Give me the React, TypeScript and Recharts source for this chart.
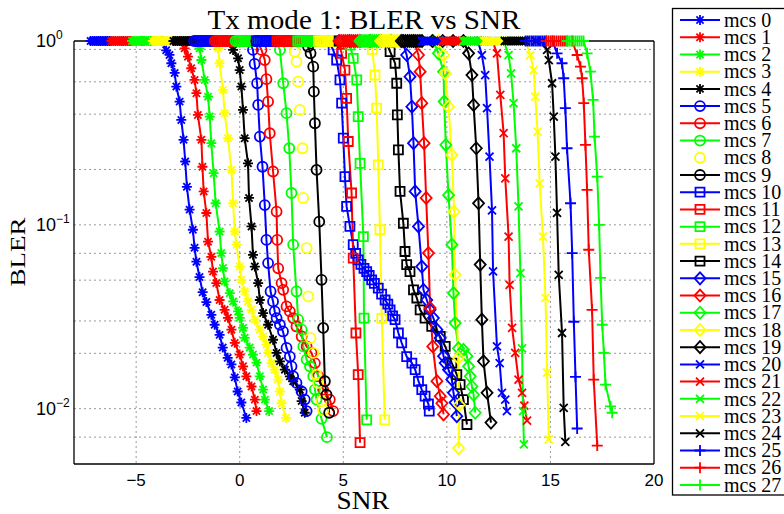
import React from 'react';
import { LineChart, Line, XAxis, YAxis, CartesianGrid, ReferenceLine } from 'recharts';

const W = 784;
const H = 514;

const seriesColors = ['#0000ff', '#ff0000', '#00ff00', '#ffff00', '#000000'];
const markerShapes = ['star', 'circle', 'square', 'diamond', 'x', 'plus'];
const seriesNames = Array.from({ length: 28 }, (_, i) => `mcs ${i}`);
const noLineSeries = [8];

const xTicks = [-5, 0, 5, 10, 15, 20];
const yTicks = [0.01, 0.1, 1];
const xGrid = [-5, 0, 5, 10, 15];
const yGrid = [0.006, 0.007, 0.008, 0.009, 0.01, 0.02, 0.03, 0.04, 0.05, 0.06, 0.07, 0.08, 0.09, 0.1, 0.2, 0.3, 0.4, 0.5, 0.6, 0.7, 0.8, 0.9];

// SNR points where BLER = 1 (the saturated band at the top)
const top0 = [-7.2, -7.1, -7, -6.9, -6.8, -6.7, -6.6, -6.5, -6.4, -6.3, -6.2, -5.7, -5.2, -4.7, -4.2, -3.75];
const top1 = [-6.2, -6.1, -6, -5.9, -5.8, -5.7, -5.6, -5.5, -5.4, -5.3, -5.2, -4.7, -4.2, -3.7, -3.2, -2.85];
const top2 = [-5.2, -5.1, -5, -4.9, -4.8, -4.7, -4.6, -4.5, -4.4, -4.3, -4.2, -3.7, -3.2, -2.7, -2.2];
const top3 = [-4.2, -4.1, -4, -3.9, -3.8, -3.7, -3.6, -3.5, -3.4, -3.3, -3.2, -2.7, -2.2, -1.7, -1.25];
const top4 = [-3.2, -3.1, -3, -2.9, -2.8, -2.7, -2.6, -2.5, -2.4, -2.3, -2.2, -1.7, -1.2, -0.7, -0.5];
const top5 = [-2.2, -2.1, -2, -1.9, -1.8, -1.7, -1.6, -1.5, -1.4, -1.3, -1.2, -0.7, -0.2, 0.3, 0.45];
const top6 = [-1.2, -1.1, -1, -0.9, -0.8, -0.7, -0.6, -0.5, -0.4, -0.3, -0.2, 0.3, 0.85];
const top7 = [-0.2, -0.1, 0, 0.1, 0.2, 0.3, 0.4, 0.5, 0.6, 0.7, 0.8, 1.3, 1.75];
const top8 = [0.8, 1.3, 1.8, 2.3, 2.5];
const top9 = [0.8, 1.3, 1.8, 2.3, 2.8, 3.1];
const top10 = [0.8, 0.9, 1, 1.1, 1.2, 1.3, 1.4, 1.5, 1.6, 1.7, 1.8, 2.3, 2.8, 3.3, 3.8, 4.3];
const top11 = [1.8, 1.9, 2, 2.1, 2.2, 2.3, 2.4, 2.5, 2.6, 2.7, 2.8, 3.3, 3.8, 4.3, 4.75];
const top12 = [2.8, 2.9, 3, 3.1, 3.2, 3.3, 3.4, 3.5, 3.6, 3.7, 3.8, 4.3, 4.8, 5.15];
const top13 = [3.8, 3.9, 4, 4.1, 4.2, 4.3, 4.4, 4.5, 4.6, 4.7, 4.8, 5.3, 5.8, 6.2];
const top14 = [4.8, 5.3, 5.8, 6.3, 6.8, 7.05];
const top15 = [4.8, 5.3, 5.8, 6.3, 6.8, 7.3, 7.85];
const top16 = [4.8, 4.9, 5, 5.1, 5.2, 5.3, 5.4, 5.5, 5.6, 5.7, 5.8, 6.3, 6.8, 7.3, 7.8, 8.4];
const top17 = [5.8, 5.9, 6, 6.1, 6.2, 6.3, 6.4, 6.5, 6.6, 6.7, 6.8, 7.3, 7.8, 8.3, 8.8, 9.35];
const top18 = [6.8, 6.9, 7, 7.1, 7.2, 7.3, 7.4, 7.5, 7.6, 7.7, 7.8, 8.3, 8.8, 9.3, 9.6];
const top19 = [7.8, 7.9, 8, 8.1, 8.2, 8.3, 8.4, 8.5, 8.6, 8.7, 8.8, 9.3, 9.8, 10.3, 10.8];
const top20 = [8.8, 8.9, 9, 9.1, 9.2, 9.3, 9.4, 9.5, 9.6, 9.7, 9.8, 10.3, 10.8, 11.3, 11.5];
const top21 = [9.8, 9.9, 10, 10.1, 10.2, 10.3, 10.4, 10.5, 10.6, 10.7, 10.8, 11.3, 11.8, 12.2];
const top22 = [10.8, 10.9, 11, 11.1, 11.2, 11.3, 11.4, 11.5, 11.6, 11.7, 11.8, 12.3, 12.75];
const top23 = [11.8, 11.9, 12, 12.1, 12.2, 12.3, 12.4, 12.5, 12.6, 12.7, 12.8, 13.3, 13.8];
const top24 = [12.8, 12.9, 13, 13.1, 13.2, 13.3, 13.4, 13.5, 13.6, 13.7, 13.8, 14.3, 14.6];
const top25 = [13.8, 13.9, 14, 14.1, 14.2, 14.3, 14.4, 14.5, 14.6, 14.7, 14.8, 15.1];
const top26 = [14.8, 14.9, 15, 15.1, 15.2, 15.3, 15.4, 15.5, 15.6, 15.7, 15.8, 16.05];
const top27 = [15.8, 15.9, 16, 16.1, 16.2, 16.3, 16.4, 16.5, 16.6];

// [SNR, BLER] points of the waterfall part
const drop0 = [[-3.55, 0.89], [-3.39, 0.84], [-3.3, 0.757], [-3.14, 0.67], [-3.06, 0.565], [-2.9, 0.468], [-2.82, 0.372], [-2.71, 0.29], [-2.63, 0.221], [-2.55, 0.161], [-2.42, 0.121], [-2.26, 0.094], [-2.18, 0.075], [-2.09, 0.063], [-1.94, 0.052], [-1.79, 0.043], [-1.61, 0.038], [-1.37, 0.0324], [-1.21, 0.0286], [-0.97, 0.0252], [-0.82, 0.0215], [-0.58, 0.0189], [-0.4, 0.0174], [-0.24, 0.0148], [-0.1, 0.0124], [0.08, 0.0108], [0.32, 0.0089]];
const drop1 = [[-2.66, 0.912], [-2.5, 0.822], [-2.34, 0.711], [-2.18, 0.614], [-2.09, 0.52], [-2.02, 0.396], [-1.85, 0.29], [-1.8, 0.207], [-1.74, 0.152], [-1.61, 0.116], [-1.53, 0.081], [-1.37, 0.067], [-1.29, 0.0557], [-1.13, 0.0482], [-0.97, 0.039], [-0.73, 0.0345], [-0.57, 0.0312], [-0.4, 0.0269], [-0.24, 0.0228], [0, 0.0197], [0.16, 0.017], [0.32, 0.015], [0.57, 0.0132], [0.73, 0.0112], [0.81, 0.0097]];
const drop2 = [[-1.94, 0.912], [-1.85, 0.788], [-1.69, 0.614], [-1.53, 0.498], [-1.45, 0.388], [-1.37, 0.278], [-1.26, 0.191], [-1.16, 0.131], [-0.97, 0.092], [-0.89, 0.0702], [-0.81, 0.0582], [-0.73, 0.0492], [-0.48, 0.0425], [-0.32, 0.0383], [-0.08, 0.0338], [0, 0.0312], [0.16, 0.0275], [0.24, 0.0243], [0.48, 0.0215], [0.64, 0.0197], [0.81, 0.0178], [0.97, 0.015], [1.13, 0.0127], [1.21, 0.0112], [1.42, 0.0097]];
const drop3 = [[-1.05, 0.912], [-0.97, 0.757], [-0.81, 0.542], [-0.73, 0.405], [-0.57, 0.296], [-0.4, 0.199], [-0.32, 0.131], [-0.24, 0.092], [-0.16, 0.078], [0, 0.0593], [0.08, 0.0502], [0.24, 0.0434], [0.4, 0.0383], [0.57, 0.0345], [0.73, 0.0305], [0.97, 0.0269], [1.13, 0.0247], [1.29, 0.0223], [1.37, 0.0201], [1.53, 0.0177], [1.69, 0.0163], [1.85, 0.0144], [1.94, 0.0124], [2.02, 0.0107], [2.23, 0.0089]];
const drop4 = [[-0.32, 0.894], [-0.08, 0.805], [0, 0.695], [0.08, 0.565], [0.16, 0.422], [0.24, 0.296], [0.4, 0.216], [0.45, 0.14], [0.57, 0.098], [0.64, 0.0687], [0.73, 0.0593], [0.89, 0.0482], [0.97, 0.039], [1.13, 0.0331], [1.37, 0.0286], [1.61, 0.0237], [1.78, 0.0201], [1.94, 0.0181], [2.18, 0.0163], [2.42, 0.015], [2.58, 0.0141], [2.9, 0.0127], [2.99, 0.011], [3.14, 0.0095]];
const drop5 = [[0.64, 0.894], [0.72, 0.75], [0.84, 0.589], [0.89, 0.449], [0.97, 0.302], [1.1, 0.207], [1.21, 0.128], [1.29, 0.0828], [1.37, 0.0619], [1.49, 0.0434], [1.61, 0.0383], [1.69, 0.0338], [1.78, 0.0311], [1.94, 0.0286], [2.09, 0.0263], [2.26, 0.0214], [2.42, 0.0192], [2.5, 0.017], [2.58, 0.015], [2.74, 0.0138], [2.99, 0.0124], [3.14, 0.0112], [3.23, 0.0097]];
const drop6 = [[1.05, 0.894], [1.21, 0.788], [1.29, 0.62], [1.37, 0.468], [1.45, 0.315], [1.61, 0.195], [1.78, 0.118], [1.81, 0.0828], [1.86, 0.058], [2.02, 0.0482], [2.1, 0.0443], [2.26, 0.036], [2.42, 0.0338], [2.58, 0.0311], [2.74, 0.028], [2.99, 0.0247], [3.23, 0.0218], [3.47, 0.0201], [3.63, 0.0177], [3.79, 0.015], [4.03, 0.0127], [4.35, 0.0112], [4.51, 0.0097]];
const drop7 = [[1.94, 0.894], [2.1, 0.589], [2.26, 0.405], [2.39, 0.261], [2.5, 0.149], [2.58, 0.078], [2.74, 0.0434], [2.82, 0.0305], [2.99, 0.0269], [3.07, 0.0218], [3.23, 0.0185], [3.39, 0.017], [3.55, 0.015], [3.63, 0.0127], [3.71, 0.0112], [3.95, 0.0088], [4.21, 0.007]];
const drop8 = [[2.66, 0.875], [2.74, 0.772], [2.82, 0.601], [2.9, 0.422], [3.03, 0.261], [3.06, 0.14], [3.23, 0.0747], [3.31, 0.0408], [3.42, 0.0242], [3.55, 0.0201], [3.71, 0.0153], [3.79, 0.0138], [3.95, 0.011], [4.03, 0.0098]];
const drop9 = [[3.3, 0.931], [3.42, 0.857], [3.55, 0.725], [3.58, 0.53], [3.63, 0.357], [3.71, 0.199], [3.84, 0.104], [3.95, 0.0502], [4.03, 0.0275], [4.11, 0.0141], [4.19, 0.0119], [4.32, 0.0095]];
const drop10 = [[4.51, 0.894], [4.68, 0.788], [4.84, 0.614], [4.92, 0.459], [5.0, 0.296], [5.08, 0.183], [5.16, 0.126], [5.32, 0.098], [5.48, 0.078], [5.6, 0.07], [5.72, 0.0645], [5.85, 0.061], [6.0, 0.058], [6.13, 0.0557], [6.25, 0.053], [6.37, 0.0502], [6.5, 0.048], [6.69, 0.0453], [6.85, 0.042], [7.02, 0.039], [7.15, 0.037], [7.26, 0.0345], [7.38, 0.032], [7.5, 0.0305], [7.66, 0.0258], [7.82, 0.0228], [8.06, 0.0192], [8.31, 0.0177], [8.47, 0.0163], [8.63, 0.0141], [8.79, 0.0127], [8.95, 0.0117], [9.11, 0.0106], [9.15, 0.0097]];
const drop11 = [[4.92, 0.857], [5.08, 0.695], [5.16, 0.488], [5.24, 0.284], [5.4, 0.149], [5.48, 0.0659], [5.61, 0.0258], [5.72, 0.0153], [5.81, 0.00653]];
const drop12 = [[5.32, 0.95], [5.48, 0.805], [5.65, 0.614], [5.72, 0.388], [5.81, 0.216], [5.97, 0.0863], [6.0, 0.0311], [6.13, 0.0087]];
const drop13 = [[6.4, 0.9], [6.53, 0.653], [6.61, 0.431], [6.69, 0.212], [6.77, 0.094], [6.86, 0.031], [7.0, 0.0087]];
const drop14 = [[7.26, 0.875], [7.5, 0.757], [7.58, 0.589], [7.61, 0.396], [7.66, 0.256], [7.74, 0.152], [7.9, 0.102], [7.98, 0.0716], [8.06, 0.0608], [8.22, 0.0557], [8.39, 0.0443], [8.55, 0.04], [8.71, 0.0345], [8.95, 0.0311], [9.27, 0.028], [9.68, 0.0247], [9.92, 0.0218], [10.24, 0.0177], [10.48, 0.0153], [10.64, 0.0135], [10.8, 0.0112], [10.97, 0.0082]];
const drop15 = [[8.06, 0.839], [8.22, 0.64], [8.31, 0.439], [8.39, 0.278], [8.47, 0.152], [8.63, 0.098], [8.79, 0.0593], [8.87, 0.0443], [9.03, 0.039], [9.19, 0.0345], [9.35, 0.0311], [9.52, 0.0269], [9.68, 0.0242], [9.84, 0.0193], [9.92, 0.0177], [10.08, 0.0163], [10.24, 0.0144], [10.32, 0.0122], [10.4, 0.0108], [10.48, 0.0091]];
const drop16 = [[8.63, 0.839], [8.71, 0.681], [8.79, 0.459], [8.9, 0.278], [9.0, 0.14], [9.11, 0.0702], [9.19, 0.0353], [9.32, 0.0218], [9.52, 0.0141], [9.68, 0.0117], [9.76, 0.0107], [9.84, 0.0093]];
const drop17 = [[9.59, 0.857], [9.84, 0.681], [9.87, 0.468], [9.95, 0.272], [10.08, 0.145], [10.24, 0.078], [10.32, 0.0425], [10.4, 0.0292], [10.56, 0.0213], [10.8, 0.0209], [10.97, 0.0193], [11.05, 0.017], [11.13, 0.015], [11.21, 0.0132], [11.29, 0.0119], [11.37, 0.0095]];
const drop18 = [[9.84, 0.839], [9.92, 0.667], [10.08, 0.439], [10.24, 0.24], [10.35, 0.118], [10.4, 0.0535], [10.56, 0.0189], [10.6, 0.0105], [10.57, 0.0061]];
const drop19 = [[11.05, 0.857], [11.21, 0.653], [11.29, 0.449], [11.42, 0.261], [11.53, 0.131], [11.61, 0.0608], [11.69, 0.0305], [11.77, 0.0181], [11.94, 0.0122], [12.13, 0.0084]];
const drop20 = [[11.69, 0.839], [11.85, 0.653], [11.94, 0.431], [12.06, 0.235], [12.18, 0.12], [12.23, 0.0559], [12.42, 0.0218], [12.55, 0.0177], [12.66, 0.0122], [12.82, 0.0112], [12.9, 0.0097]];
const drop21 = [[12.42, 0.857], [12.58, 0.509], [12.74, 0.315], [12.82, 0.179], [12.98, 0.0863], [13.03, 0.0472], [13.15, 0.0275], [13.3, 0.0201], [13.46, 0.0144], [13.63, 0.0122], [13.74, 0.0104], [13.87, 0.0086]];
const drop22 = [[12.98, 0.839], [13.1, 0.667], [13.22, 0.459], [13.35, 0.261], [13.46, 0.126], [13.55, 0.0546], [13.63, 0.0213], [13.68, 0.0097], [13.72, 0.0064]];
const drop23 = [[14.03, 0.839], [14.19, 0.695], [14.27, 0.498], [14.38, 0.321], [14.48, 0.168], [14.64, 0.0863], [14.76, 0.0401], [14.84, 0.0157], [14.92, 0.0068]];
const drop24 = [[14.84, 0.894], [14.92, 0.788], [15.08, 0.589], [15.16, 0.388], [15.24, 0.235], [15.32, 0.116], [15.4, 0.0535], [15.56, 0.0258], [15.64, 0.0101], [15.72, 0.0066]];
const drop25 = [[15.32, 0.857], [15.56, 0.757], [15.64, 0.627], [15.72, 0.431], [15.8, 0.261], [15.97, 0.131], [16.05, 0.0702], [16.13, 0.0297], [16.21, 0.0149], [16.29, 0.0078]];
const drop26 = [[16.29, 0.839], [16.45, 0.725], [16.53, 0.627], [16.61, 0.459], [16.69, 0.272], [16.77, 0.155], [16.85, 0.0732], [17.01, 0.0345], [17.09, 0.0144], [17.26, 0.0063]];
const drop27 = [[16.77, 0.857], [16.93, 0.681], [17.06, 0.478], [17.13, 0.302], [17.26, 0.183], [17.35, 0.1], [17.42, 0.0514], [17.5, 0.0286], [17.58, 0.0201], [17.66, 0.0135], [17.9, 0.0103], [17.98, 0.0095]];

const tops = [top0, top1, top2, top3, top4, top5, top6, top7, top8, top9, top10, top11, top12, top13, top14, top15, top16, top17, top18, top19, top20, top21, top22, top23, top24, top25, top26, top27];
const drops = [drop0, drop1, drop2, drop3, drop4, drop5, drop6, drop7, drop8, drop9, drop10, drop11, drop12, drop13, drop14, drop15, drop16, drop17, drop18, drop19, drop20, drop21, drop22, drop23, drop24, drop25, drop26, drop27];

const series = seriesNames.map((name, i) => ({
  name,
  color: seriesColors[i % 5],
  shape: markerShapes[Math.floor(i / 5)],
  line: !noLineSeries.includes(i),
  data: tops[i].map((s) => ({ snr: s, bler: 1 })).concat(drops[i].map(([s, b]) => ({ snr: s, bler: b }))),
}));

function markerPath(shape: string, x: number, y: number): string {
  switch (shape) {
    case 'star':
      return `M${x - 5},${y}L${x + 5},${y}M${x},${y - 5}L${x},${y + 5}M${x - 3.6},${y - 3.6}L${x + 3.6},${y + 3.6}M${x - 3.6},${y + 3.6}L${x + 3.6},${y - 3.6}`;
    case 'circle':
      return `M${x - 5},${y}a5,5 0 1,0 10,0a5,5 0 1,0 -10,0Z`;
    case 'square':
      return `M${x - 4.5},${y - 4.5}h9v9h-9Z`;
    case 'diamond':
      return `M${x},${y - 6}L${x + 5.5},${y}L${x},${y + 6}L${x - 5.5},${y}Z`;
    case 'x':
      return `M${x - 4},${y - 4}L${x + 4},${y + 4}M${x - 4},${y + 4}L${x + 4},${y - 4}`;
    default:
      return `M${x - 5.5},${y}L${x + 5.5},${y}M${x},${y - 5.5}L${x},${y + 5.5}`;
  }
}

const makeDot = (shape: string, color: string) => (props: any) => {
  const { cx, cy, index } = props;
  if (cx == null || cy == null || isNaN(cx) || isNaN(cy)) return <g key={`e${index}`} />;
  return <path key={`d${index}`} d={markerPath(shape, cx, cy)} stroke={color} strokeWidth={1.8} fill="none" />;
};

const XTick = (props: any) => {
  const { x, payload } = props;
  const v = payload.value;
  const label = v < 0 ? `\u2212${-v}` : `${v}`;
  return (
    <text x={x} y={486} textAnchor="middle" fontFamily="Liberation Sans, Arial, sans-serif" fontSize={17} fill="#000">
      {label}
    </text>
  );
};

const YTick = (props: any) => {
  const { y, payload } = props;
  const exp = Math.round(Math.log10(payload.value));
  return (
    <text x={36} y={y + 6} fontFamily="Liberation Sans, Arial, sans-serif" fontSize={18} fill="#000">
      10
      <tspan dy={-8} fontSize={12}>{exp === 0 ? '0' : `\u2212${-exp}`}</tspan>
    </text>
  );
};

const legendTop = 20;
const legendStep = 17.22;

export default function App() {
  return (
    <div style={{ position: 'absolute', left: 0, top: 0, width: W, height: H, background: '#fff', overflow: 'hidden' }}>
      <LineChart width={W} height={H} margin={{ top: 41, right: 130, bottom: 0, left: 0 }}>
        <CartesianGrid
          stroke="#9a9a9a"
          strokeDasharray="2 3"
          horizontalValues={yGrid}
          verticalValues={xGrid}
        />
        <XAxis
          dataKey="snr"
          type="number"
          domain={[-8, 20]}
          ticks={xTicks}
          height={50}
          tick={<XTick />}
          tickLine={false}
          axisLine={{ stroke: '#000', strokeWidth: 1.3 }}
          allowDuplicatedCategory={false}
        />
        <YAxis
          dataKey="bler"
          type="number"
          scale="log"
          domain={[0.005, 1]}
          ticks={yTicks}
          width={74}
          tick={<YTick />}
          tickLine={false}
          axisLine={{ stroke: '#000', strokeWidth: 1.3 }}
        />
        <ReferenceLine y={1} stroke="#000" strokeWidth={1.3} />
        <ReferenceLine x={20} stroke="#000" strokeWidth={1.3} />
        {series.map((s) => (
          <Line
            key={s.name}
            name={s.name}
            data={s.data}
            dataKey="bler"
            type="linear"
            stroke={s.line ? s.color : 'none'}
            strokeWidth={2}
            dot={makeDot(s.shape, s.color)}
            activeDot={false}
            isAnimationActive={false}
          />
        ))}
      </LineChart>
      <svg width={W} height={H} style={{ position: 'absolute', left: 0, top: 0, pointerEvents: 'none' }}>
        <text x={364} y={29} textAnchor="middle" fontFamily="Liberation Serif, Times New Roman, serif" fontSize={27} textLength={313} lengthAdjust="spacingAndGlyphs" fill="#000">
          Tx mode 1: BLER vs SNR
        </text>
        <text x={363} y={509} textAnchor="middle" fontFamily="Liberation Serif, Times New Roman, serif" fontSize={26} textLength={53} lengthAdjust="spacingAndGlyphs" fill="#000">
          SNR
        </text>
        <text transform="translate(25,252) rotate(-90)" x={0} y={0} textAnchor="middle" fontFamily="Liberation Serif, Times New Roman, serif" fontSize={21} textLength={69} lengthAdjust="spacingAndGlyphs" fill="#000">
          BLER
        </text>
        <rect x={672.5} y={8.5} width={130} height={486.5} fill="#fff" stroke="#000" strokeWidth={1.3} />
        {series.map((s, i) => {
          const y = legendTop + i * legendStep;
          return (
            <g key={s.name}>
              {s.line && <line x1={680} x2={720} y1={y} y2={y} stroke={s.color} strokeWidth={2} />}
              <path d={markerPath(s.shape, 700, y)} stroke={s.color} strokeWidth={1.8} fill="none" />
              <text x={724} y={y + 6.7} fontFamily="Liberation Serif, Times New Roman, serif" fontSize={20} fill="#000">
                {s.name}
              </text>
            </g>
          );
        })}
      </svg>
    </div>
  );
}
